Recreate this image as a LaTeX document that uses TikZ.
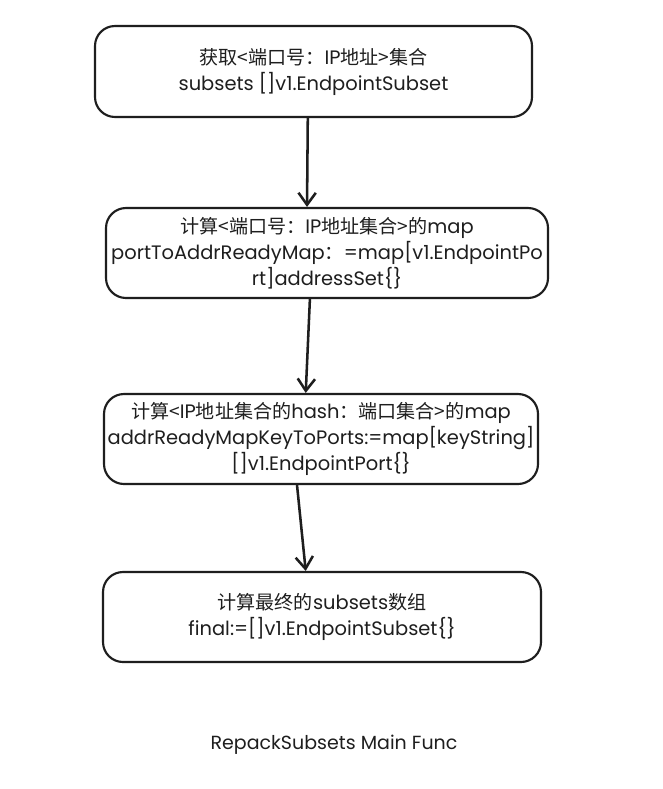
\documentclass[tikz,border=0pt]{standalone}
\usepackage{fontspec}
\setmainfont[Scale=1.08]{Poppins}
\newfontfamily\cjk[Scale=1.06]{Noto Sans CJK SC}
\usetikzlibrary{arrows.meta,calc}
\definecolor{ink}{HTML}{1E1E1E}
\tikzset{
  stepbox/.style={draw=ink, line width=1.6pt, rounded corners=15pt,
    align=center, text=ink, font=\fontsize{13.5pt}{19.5pt}\selectfont,
    inner sep=0pt},
  flow/.style={draw=ink, line width=1.9pt, -{Straight Barb[length=9pt,width=13pt,line width=1.9pt]}},
  caption/.style={text=ink, font=\fontsize{13.2pt}{15pt}\selectfont}
}
\begin{document}
\begin{tikzpicture}[x=0.75pt,y=-0.75pt]
  \useasboundingbox (0,0) rectangle (662,789);
  \fill[white] (0,0) rectangle (662,789);

  \node[stepbox, minimum width=437*0.75pt, minimum height=91*0.75pt] (b1) at (313.5,71.5)
    {{\cjk 获取<端口号：}IP{\cjk 地址>集合}\\subsets []v1.EndpointSubset};
  \node[stepbox, minimum width=442*0.75pt, minimum height=90*0.75pt] (b2) at (327,253)
    {{\cjk 计算<端口号：}IP{\cjk 地址集合>的}map\\portToAddrReadyMap{\cjk ：}=map[v1.EndpointPo\\rt]addressSet\{\}};
  \node[stepbox, minimum width=434*0.75pt, minimum height=90*0.75pt] (b3) at (321,439)
    {{\cjk 计算<}IP{\cjk 地址集合的}hash{\cjk ：端口集合>的}map\\addrReadyMapKeyToPorts:=map[keyString]\\{}[]v1.EndpointPort\{\}};
  \node[stepbox, minimum width=438*0.75pt, minimum height=90*0.75pt] (b4) at (322,617)
    {{\cjk 计算最终的}subsets{\cjk 数组}\\final:=[]v1.EndpointSubset\{\}};

  \draw[flow] ($(b1.south west)!0.487!(b1.south east)$) -- ($(b2.north west)!0.455!(b2.north east)$);
  \draw[flow] ($(b2.south west)!0.4615!(b2.south east)$) -- ($(b3.north west)!0.465!(b3.north east)$);
  \draw[flow] ($(b3.south west)!0.445!(b3.south east)$) -- ($(b4.north west)!0.463!(b4.north east)$);

  \node[caption] (cap) at (334,745) {RepackSubsets Main Func};
\end{tikzpicture}
\end{document}
